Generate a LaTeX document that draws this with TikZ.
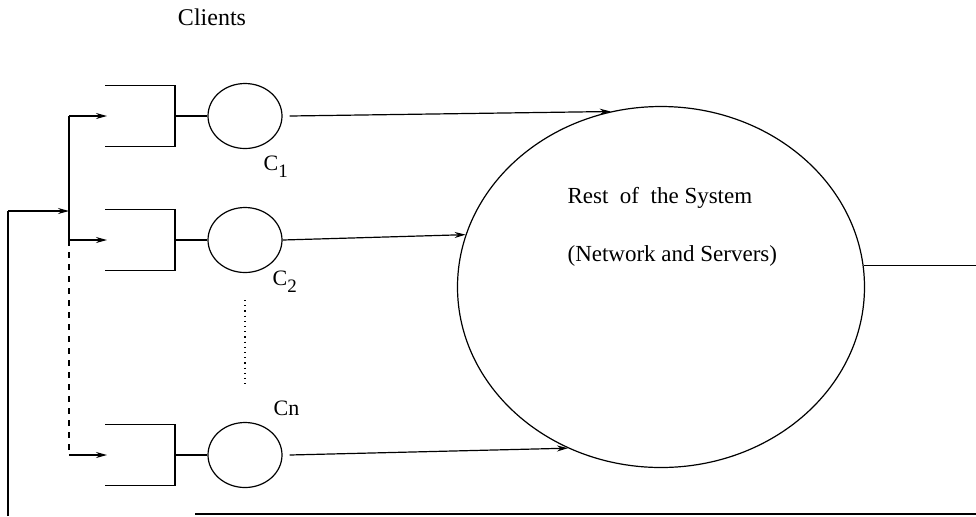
\documentclass[tikz,border=0pt]{standalone}
\usepackage{fontspec}
\setmainfont{Liberation Serif}
\usetikzlibrary{arrows.meta, shapes.geometric}
\newcommand{\clsub}[1]{\raisebox{-3.5pt}{\fontsize{9.5}{10}\selectfont #1}}
\begin{document}
\begin{tikzpicture}[x = 0.5pt, y = -0.5pt, line width = 0.6pt,
        >={Stealth[length = 5.5pt, width = 3pt]},
        client/.style = {draw, ellipse, minimum width = 37pt, minimum height = 32.5pt, inner sep = 0pt},
        restsys/.style = {draw, ellipse, minimum width = 203.5pt, minimum height = 180.5pt, inner sep = 0pt},
        lbl/.style = {font = \fontsize{11}{13}\selectfont, inner sep = 0pt}]
    \useasboundingbox (0, 0) rectangle (976, 516);
    \node[lbl, font = \fontsize{12}{14}\selectfont] (title) at (212, 17) {Clients};
    \node[restsys] (sys) at (661, 287) {};
    \node[lbl, font = \fontsize{11.5}{14}\selectfont, anchor = west] (rest) at (567, 198) {Rest \ of \ the System};
    \node[lbl, font = \fontsize{11.5}{14}\selectfont, anchor = west] (netw) at (567, 256) {(Network and Servers)};
    \foreach \i/\y in {1/116, 2/240, n/455} {
        \draw (105, \y - 30.5) -- (175, \y - 30.5) -- (175, \y + 30.5) -- (105, \y + 30.5);
        \coordinate (q\i) at (175, \y);
        \coordinate (in\i) at (107, \y);
        \coordinate (br\i) at (69, \y);
        \node[client] (c\i) at (245, \y) {};
        \draw (q\i) -- (c\i);
        \draw[->] (br\i) -- (in\i);
    }
    \node[lbl, anchor = base west] (l1) at (263, 170) {C\clsub{1}};
    \node[lbl, anchor = base west] (l2) at (272, 285) {C\clsub{2}};
    \node[lbl, anchor = base west] (ln) at (273, 415) {Cn};
    \draw[->] ([xshift = 3.5pt] c1.east) -- (sys.106);
    \draw[->] (c2.east) -- (sys.165);
    \draw[->] ([xshift = 3.5pt] cn.east) -- (sys.240);
    \draw[dotted] (245, 300) -- (245, 388);
    \draw (br1) -- (br2);
    \draw[dashed] (br2) -- (brn);
    \coordinate (fbtop) at (8, 211);
    \coordinate (fbbot) at (8, 516);
    \coordinate (join) at (69, 211);
    \coordinate (outr) at (976, 264);
    \coordinate (bl) at (195, 514);
    \coordinate (br) at (976, 514);
    \draw (fbbot) -- (fbtop);
    \draw[->] (fbtop) -- (join);
    \draw (sys.6.5) -- (sys.6.5 -| outr);
    \draw (bl) -- (br);
\end{tikzpicture}
\end{document}
